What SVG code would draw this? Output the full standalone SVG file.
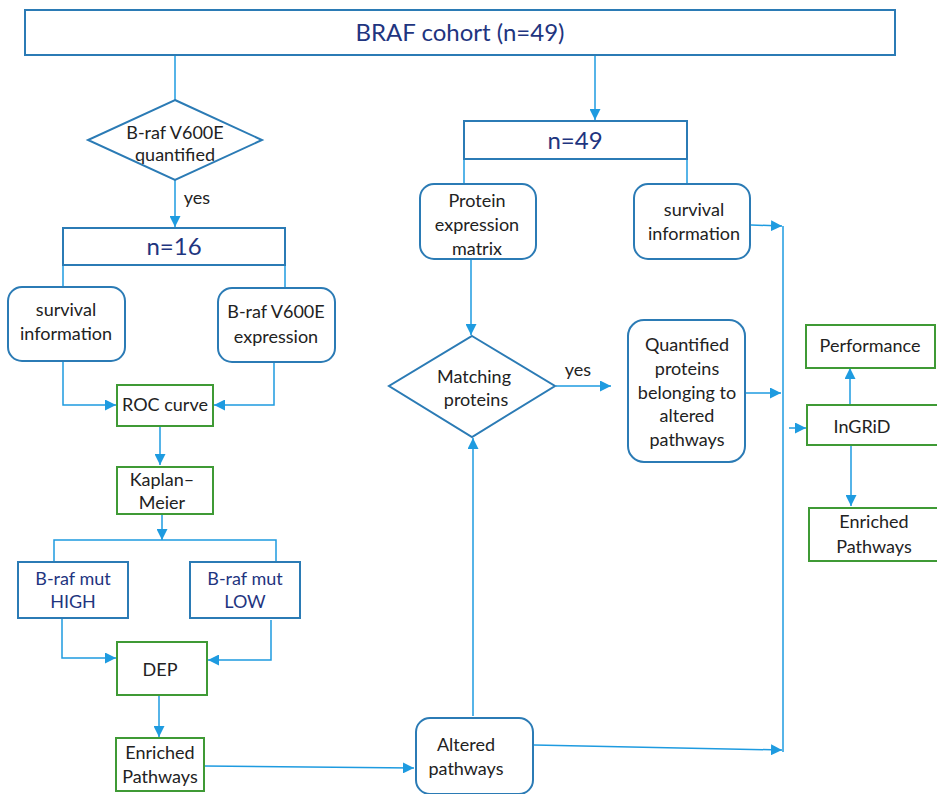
<svg xmlns="http://www.w3.org/2000/svg" width="937" height="794" viewBox="0 0 937 794">
<defs>
<marker id="ah" viewBox="0 0 10 10" refX="10" refY="5" markerWidth="11" markerHeight="11" markerUnits="userSpaceOnUse" orient="auto">
<path d="M0,0 L10,5 L0,10 z" fill="#1e9be0"/>
</marker>
<style>
.c{fill:none;stroke:#1e9be0;stroke-width:1.5}
.a{marker-end:url(#ah)}
.b{fill:#fff;stroke:#2b7bb5;stroke-width:2}
.g{fill:#fff;stroke:#3f9a35;stroke-width:2}
.t{font-family:Lato,"Open Sans",sans-serif;font-size:18px;fill:#222;text-anchor:middle}
.n{font-family:Lato,"Open Sans",sans-serif;fill:#1f3580;text-anchor:middle}
</style>
</defs>
<rect width="937" height="794" fill="#fff"/>
<g id="connectors">
<path class="c" d="M175,56 V100"/>
<path class="c a" d="M595,56 V120"/>
<path class="c a" d="M175,180 V227"/>
<path class="c" d="M63,265 V287"/>
<path class="c" d="M285,265 V288"/>
<path class="c a" d="M63,362 V405 H116"/>
<path class="c a" d="M274,363 V405 H214"/>
<path class="c a" d="M160,426 V465"/>
<path class="c a" d="M162,514 V540"/>
<path class="c" d="M54,562 V540 H276 V562"/>
<path class="c a" d="M62,618 V658 H116"/>
<path class="c a" d="M271,620 V660 H208"/>
<path class="c a" d="M159,695 V737"/>
<path class="c a" d="M204,766 L414,768"/>
<path class="c" d="M464,159 V184"/>
<path class="c" d="M687,159 V184"/>
<path class="c a" d="M471,259 V335"/>
<path class="c a" d="M556,386 L611,386"/>
<path class="c a" d="M751,225 L782,226"/>
<path class="c" d="M783,226 V752"/>
<path class="c a" d="M746,393 L781,393"/>
<path class="c a" d="M789,428 L806,428"/>
<path class="c a" d="M850,404 V368"/>
<path class="c a" d="M851,446 V506"/>
<path class="c a" d="M473,716 V438"/>
<path class="c a" d="M534,745 L782,750"/>
<text class="t" x="197" y="204">yes</text>
<text class="t" x="578" y="376">yes</text>
</g>
<g id="braf-cohort">
<rect class="b" x="25" y="10" width="870" height="45"/>
<text class="n" x="460" y="41" font-size="24">BRAF cohort (n=49)</text>
</g>
<g id="quantified">
<polygon class="b" points="175,100 262,140 175,180 88,140"/>
<text class="t" x="175" y="139">B-raf V600E</text>
<text class="t" x="175" y="161">quantified</text>
</g>
<g id="n16">
<rect class="b" x="63" y="228" width="222" height="37"/>
<text class="n" x="174" y="255" font-size="24">n=16</text>
</g>
<g id="survival-left">
<rect class="b" x="8" y="287" width="117" height="74" rx="14"/>
<text class="t" x="66" y="316">survival</text>
<text class="t" x="66" y="340">information</text>
</g>
<g id="braf-expression">
<rect class="b" x="218" y="288" width="117" height="74" rx="14"/>
<text class="t" x="276" y="318">B-raf V600E</text>
<text class="t" x="276" y="343">expression</text>
</g>
<g id="roc">
<rect class="g" x="117" y="385" width="96" height="41"/>
<text class="t" x="165" y="411">ROC curve</text>
</g>
<g id="kaplan">
<rect class="g" x="117" y="467" width="96" height="47"/>
<text class="t" x="162" y="486">Kaplan–</text>
<text class="t" x="162" y="509">Meier</text>
</g>
<g id="mut-high">
<rect class="b" x="18" y="562" width="110" height="56"/>
<text class="n" x="73" y="585" font-size="18">B-raf mut</text>
<text class="n" x="73" y="608" font-size="18">HIGH</text>
</g>
<g id="mut-low">
<rect class="b" x="190" y="562" width="110" height="56"/>
<text class="n" x="245" y="585" font-size="18">B-raf mut</text>
<text class="n" x="245" y="608" font-size="18">LOW</text>
</g>
<g id="dep">
<rect class="g" x="117" y="642" width="90" height="53"/>
<text class="t" x="160" y="676">DEP</text>
</g>
<g id="enriched-left">
<rect class="g" x="116" y="738" width="88" height="53"/>
<text class="t" x="160" y="759">Enriched</text>
<text class="t" x="160" y="783">Pathways</text>
</g>
<g id="n49">
<rect class="b" x="464" y="121" width="223" height="38"/>
<text class="n" x="575" y="149" font-size="24">n=49</text>
</g>
<g id="protein-matrix">
<rect class="b" x="420" y="184" width="116" height="75" rx="14"/>
<text class="t" x="477" y="207">Protein</text>
<text class="t" x="477" y="231">expression</text>
<text class="t" x="477" y="255">matrix</text>
</g>
<g id="survival-right">
<rect class="b" x="634" y="184" width="116" height="75" rx="14"/>
<text class="t" x="694" y="216">survival</text>
<text class="t" x="694" y="240">information</text>
</g>
<g id="matching">
<polygon class="b" points="472,336 555,386 472,437 389,386"/>
<text class="t" x="474" y="383">Matching</text>
<text class="t" x="476" y="406">proteins</text>
</g>
<g id="quantified-proteins">
<rect class="b" x="628" y="320" width="117" height="142" rx="16"/>
<text class="t" x="687" y="351">Quantified</text>
<text class="t" x="687" y="375">proteins</text>
<text class="t" x="687" y="399">belonging to</text>
<text class="t" x="687" y="422">altered</text>
<text class="t" x="687" y="446">pathways</text>
</g>
<g id="altered">
<rect class="b" x="416" y="718" width="117" height="76" rx="14"/>
<text class="t" x="466" y="751">Altered</text>
<text class="t" x="466" y="775">pathways</text>
</g>
<g id="performance">
<rect class="g" x="806" y="325" width="129" height="43"/>
<text class="t" x="870" y="352">Performance</text>
</g>
<g id="ingrid">
<rect class="g" x="807" y="405" width="132" height="40"/>
<text class="t" x="862" y="433">InGRiD</text>
</g>
<g id="enriched-right">
<rect class="g" x="809" y="508" width="130" height="53"/>
<text class="t" x="874" y="528">Enriched</text>
<text class="t" x="874" y="553">Pathways</text>
</g>
</svg>
